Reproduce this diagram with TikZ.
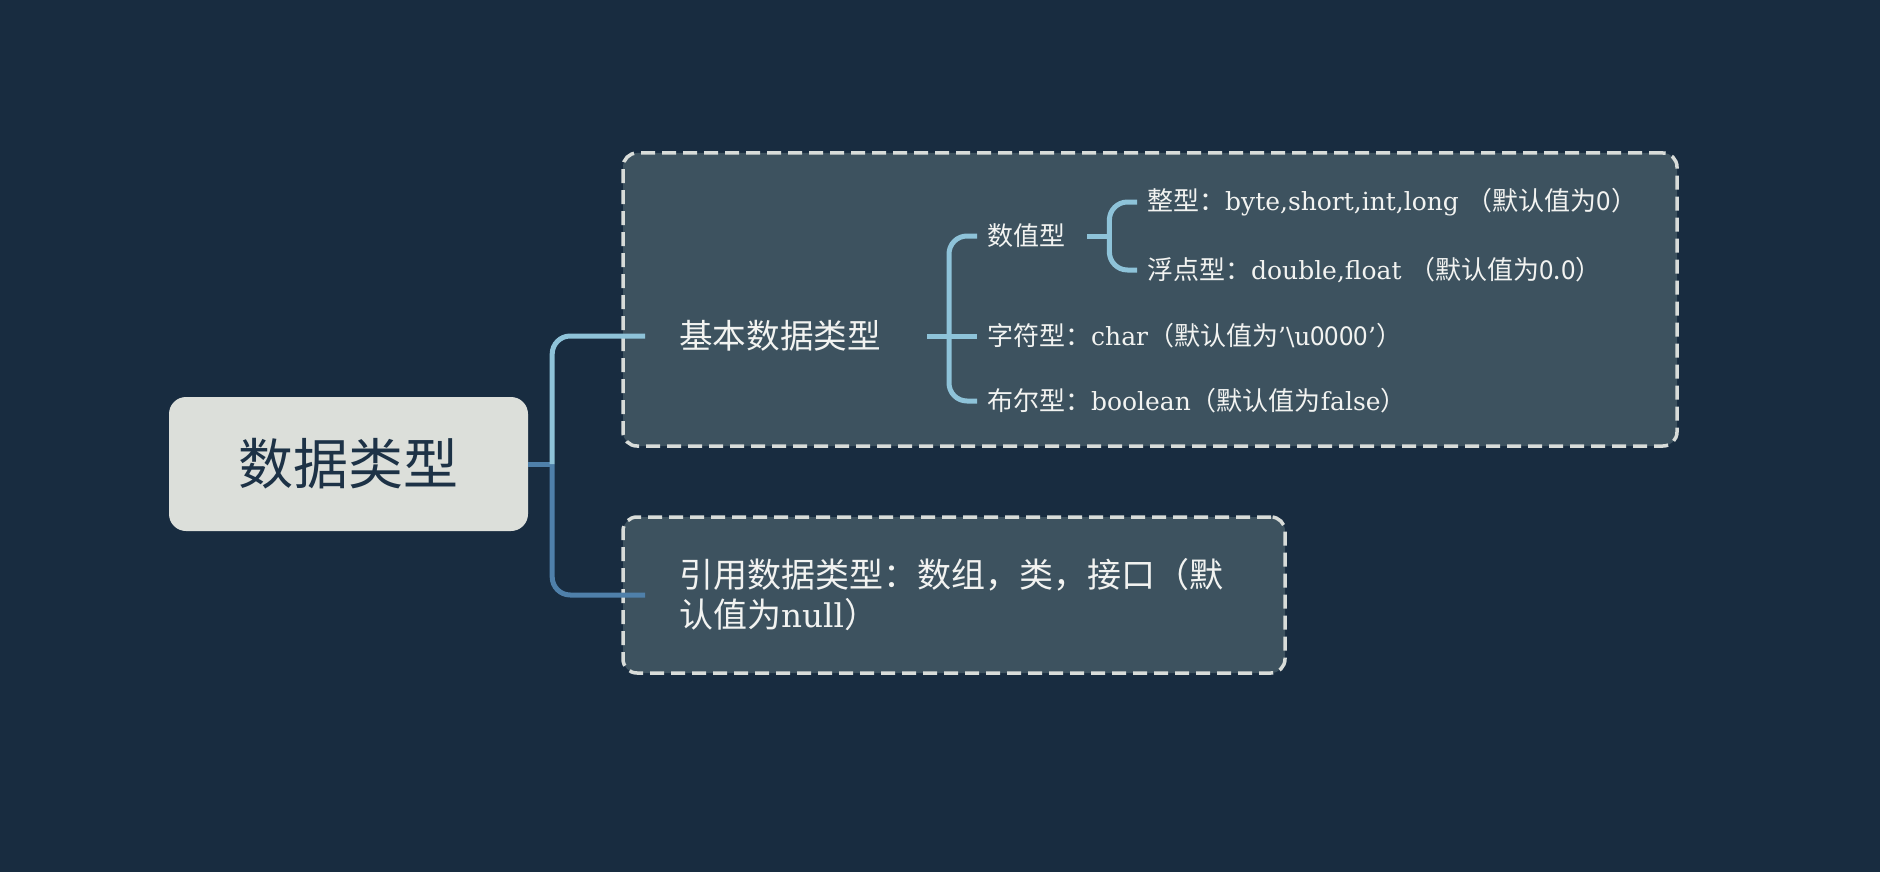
\documentclass[tikz,border=0pt]{standalone}
\usepackage{fontspec}
\setmainfont{DejaVu Serif}[Scale=0.96]
\newfontfamily\cj{Noto Sans CJK SC}
\newcommand\zh[1]{{\cj #1}}
\definecolor{bg}{HTML}{182C40}
\definecolor{boxfill}{HTML}{3D525F}
\definecolor{rootfill}{HTML}{DCDFDA}
\definecolor{roottext}{HTML}{1D3246}
\definecolor{dashc}{HTML}{D8DCD9}
\definecolor{upc}{HTML}{8EC3D9}
\definecolor{lowc}{HTML}{4F80AA}
\definecolor{txtc}{HTML}{F2F3F1}
\tikzset{
  rootbox/.style={fill=rootfill, rounded corners=17pt, minimum width=359pt, minimum height=134pt, inner sep=0pt, text=roottext, font=\cj\fontsize{55}{66}\selectfont},
  dashbox/.style={draw=dashc, line width=3.5pt, dash pattern=on 14pt off 7pt, fill=boxfill, rounded corners=14pt, inner sep=0pt},
  txtbig/.style={text=txtc, inner sep=0pt, anchor=west, font=\fontsize{33.6}{40}\selectfont},
  txtsmall/.style={text=txtc, inner sep=0pt, anchor=west, font=\fontsize{26}{31}\selectfont},
  conn/.style={line width=5pt, rounded corners=18pt},
}
\begin{document}
\begin{tikzpicture}[x=1pt,y=-1pt]
\fill[bg] (0,0) rectangle (1880,872);
\useasboundingbox (0,0) rectangle (1880,872);

% boxes
\node[rootbox] (root) at (348.5,464) {数据类型};
\node[dashbox, minimum width=1054pt, minimum height=293pt] (basicbox) at (1150,299.5) {};
\node[dashbox, minimum width=662pt, minimum height=156pt] (refbox) at (954,595) {};

% texts
\node[txtbig] (basic) at (679,336) {\zh{基本数据类型}};
\node[txtbig, align=left, font=\fontsize{34}{40}\selectfont] (refs) at (679,595) {\zh{引用数据类型：数组，类，接口（默}\\\zh{认值为}null\zh{）}};

\node[txtsmall] (num) at (987,236) {\zh{数值型}};
\node[txtsmall] (chr) at (987,336) {\zh{字符型：}char\zh{（默认值为}’\textbackslash u\zh{0000}’\zh{）}};
\node[txtsmall] (bool) at (987,401) {\zh{布尔型：}boolean\zh{（默认值为}false\zh{）}};

\node[txtsmall] (int) at (1147,202) {\zh{整型：}byte,short,int,long \zh{（默认值为0）}};
\node[txtsmall] (flt) at (1147,270) {\zh{浮点型：}double,float \zh{（默认值为0.0）}};

% trunk connectors
\coordinate (j) at ([xshift=24pt]root.east);
\draw[conn, lowc] (root.east) -- (j);
\draw[conn, lowc] (j) |- ([xshift=-34pt]refs.west);
\draw[conn, upc] (j) |- ([xshift=-34pt]basic.west);

% bracket 1
\coordinate (b1s) at ([xshift=46pt]basic.east);
\draw[conn, upc] (b1s) -- ([xshift=-10pt]chr.west);
\draw[conn, upc] ([xshift=-10pt]num.west) -| ([xshift=22pt]b1s) |- ([xshift=-10pt]bool.west);

% bracket 2
\coordinate (b2s) at ([xshift=22pt]num.east);
\draw[conn, upc] (b2s) -- ++(22,0);
\draw[conn, upc] ([xshift=-10pt]int.west) -| ([xshift=22pt]b2s) |- ([xshift=-10pt]flt.west);
\end{tikzpicture}
\end{document}
